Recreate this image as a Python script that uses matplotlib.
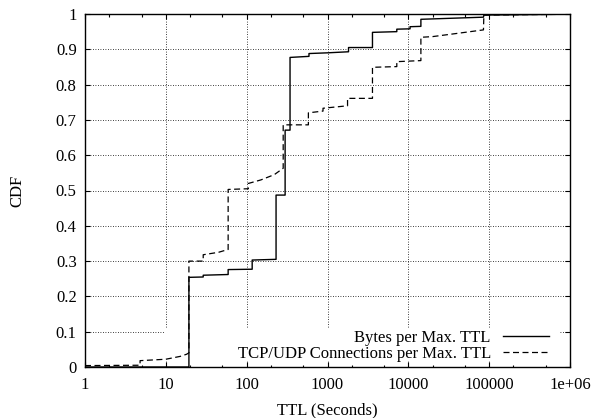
import matplotlib
matplotlib.use("Agg")
import matplotlib.pyplot as plt
from matplotlib.ticker import FixedLocator, NullFormatter
from matplotlib.patches import Rectangle

plt.rcParams['font.family'] = ['Liberation Serif', 'DejaVu Serif']

# Bytes per Max. TTL (CDF)
bytes_ttl = [1, 19.3, 19.3, 29, 29, 59, 59, 117, 117, 231, 231, 299, 299, 344, 344,
             590, 590, 1000, 1820, 1820, 3600, 3600, 7200, 7200, 10500, 10500,
             14300, 14300, 85000, 86000, 650000]
bytes_cdf = [0.0, 0.0, 0.254, 0.255, 0.26, 0.262, 0.276, 0.277, 0.303, 0.305, 0.487,
             0.487, 0.671, 0.671, 0.877, 0.88, 0.888, 0.89, 0.893, 0.905, 0.905,
             0.948, 0.95, 0.957, 0.958, 0.964, 0.965, 0.985, 0.991, 0.997, 0.999]

# TCP/UDP Connections per Max. TTL (CDF)
conn_ttl = [1, 4.8, 4.8, 10, 15, 18, 19.3, 19.3, 29, 29, 45, 59, 59, 105, 105, 150,
            220, 283, 283, 580, 580, 880, 880, 1770, 1770, 3600, 3600, 7200, 7200,
            14300, 14300, 20000, 40000, 85000, 86000, 650000]
conn_cdf = [0.004, 0.005, 0.018, 0.022, 0.030, 0.036, 0.04, 0.30, 0.30, 0.318, 0.325,
            0.333, 0.503, 0.505, 0.52, 0.53, 0.545, 0.563, 0.686, 0.686, 0.72, 0.725,
            0.733, 0.74, 0.761, 0.761, 0.849, 0.851, 0.865, 0.868, 0.934, 0.936,
            0.945, 0.955, 0.997, 0.999]

xticks = [1, 10, 100, 1000, 10000, 100000, 1000000]
xticklabels = ['1', '10', '100', '1000', '10000', '100000', '1e+06']
yticks = [0, 0.1, 0.2, 0.3, 0.4, 0.5, 0.6, 0.7, 0.8, 0.9, 1]
yticklabels = ['0', '0.1', '0.2', '0.3', '0.4', '0.5', '0.6', '0.7', '0.8', '0.9', '1']

FS = 12

fig = plt.figure(figsize=(5.95, 4.18), dpi=100)
ax = fig.add_axes([85/595, 1-367/418, (570-85)/595, (367-14)/418])

ax.set_xscale('log')
ax.set_xlim(1, 1e6)
ax.set_ylim(0, 1)

ax.set_axisbelow(True)
ax.grid(True, which='major', color='black', linestyle=(0, (1, 2)), linewidth=0.6)

# legend background masking the grid (gnuplot key box)
ax.add_patch(Rectangle((9.9, 0.02), 7.4e5 - 9.9, 0.09, facecolor='white',
                       edgecolor='none', zorder=1))

ax.plot(bytes_ttl, bytes_cdf, color='black', linewidth=1.0, zorder=3,
        label='Bytes per Max. TTL')
ax.plot(conn_ttl, conn_cdf, color='black', linewidth=0.9, dashes=(4.8, 2.8), zorder=3,
        label='TCP/UDP Connections per Max. TTL')

ax.set_xticks(xticks)
ax.set_xticklabels(xticklabels)
minors = [m * 10**k for k in range(6) for m in (2, 5)]
ax.xaxis.set_minor_locator(FixedLocator(minors))
ax.xaxis.set_minor_formatter(NullFormatter())
ax.set_yticks(yticks)
ax.set_yticklabels(yticklabels)

ax.tick_params(which='major', direction='in', length=3.6, width=0.8,
               top=True, right=True, labelsize=FS, pad=6)
ax.tick_params(which='minor', direction='in', length=1.8, width=0.8,
               top=True, right=True)
ax.tick_params(axis='x', which='major', pad=7)

for s in ax.spines.values():
    s.set_linewidth(1.0)
    s.set_color('black')

ax.set_xlabel('TTL (Seconds)', fontsize=FS, labelpad=7)
ax.set_ylabel('CDF', fontsize=FS, labelpad=22)

leg = ax.legend(loc='lower right', bbox_to_anchor=(0.9765, -0.015), frameon=False,
                markerfirst=False, fontsize=FS, handlelength=2.75, handletextpad=0.72,
                labelspacing=0.0, borderaxespad=0.2)
for t in leg.get_texts():
    t.set_ha('right')
leg._legend_box.align = 'right'

fig.savefig('out.png', dpi=100)
